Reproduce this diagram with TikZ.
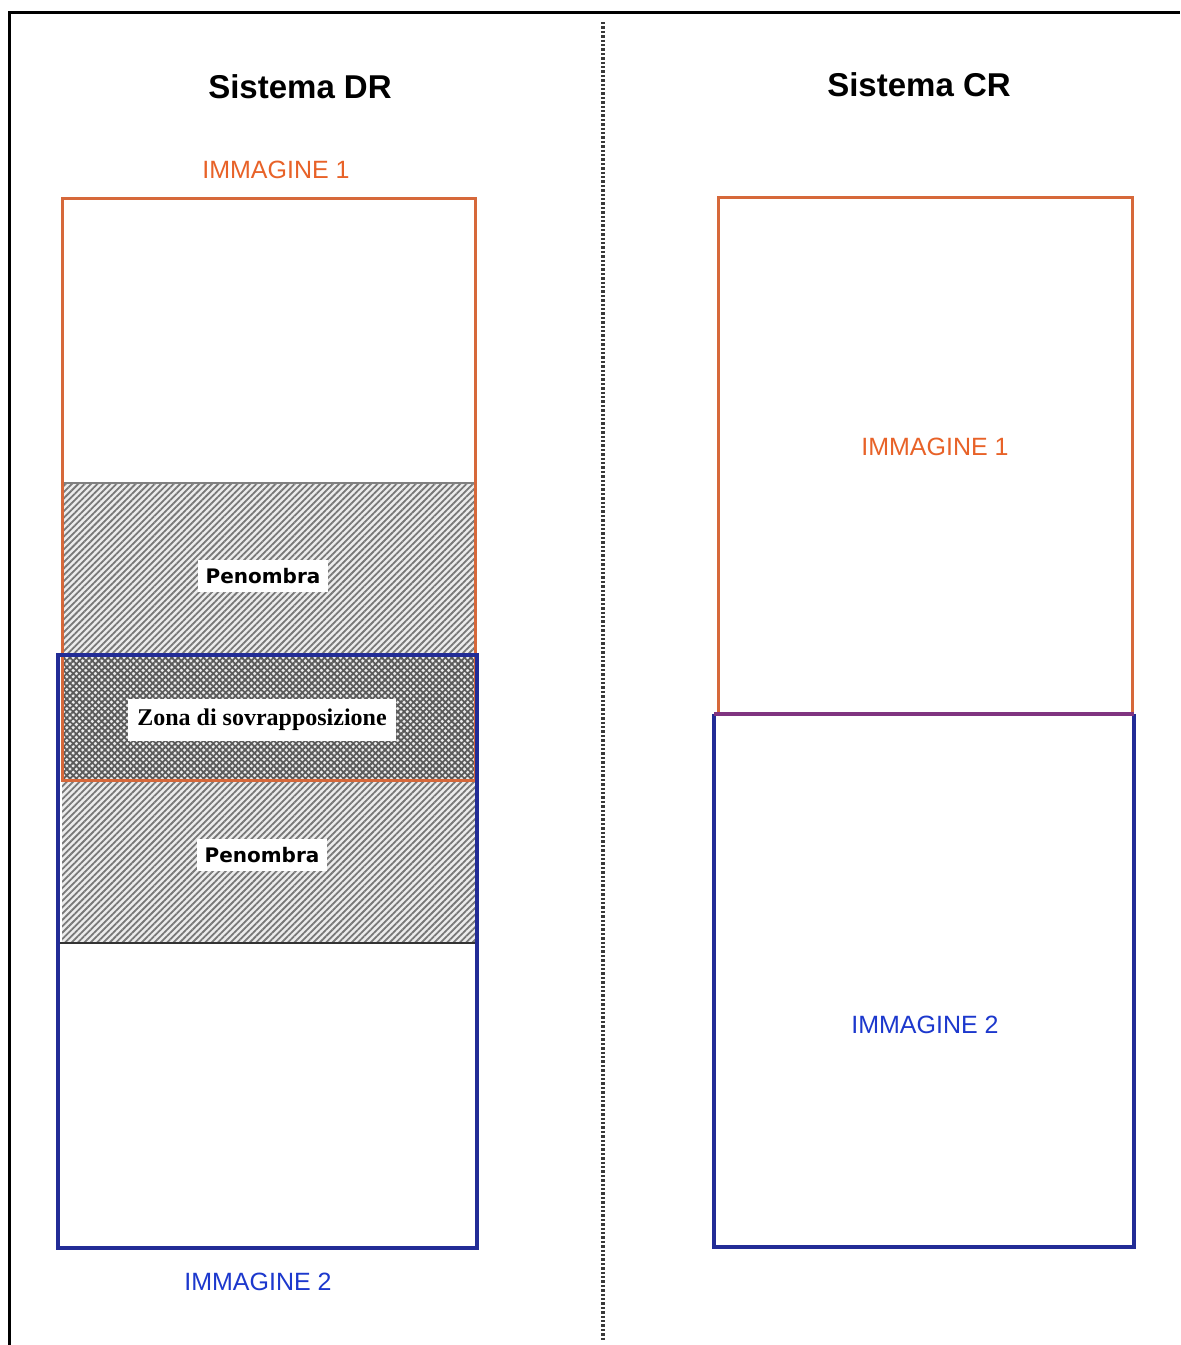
\documentclass[tikz,border=0pt]{standalone}
\usepackage{fontspec}
\setmainfont{Liberation Sans}
\newfontfamily\labelfont{DejaVu Sans}
\newfontfamily\zonefont{Liberation Serif}
\usetikzlibrary{patterns.meta}
\definecolor{imgorange}{RGB}{214,104,58}
\definecolor{txtorange}{RGB}{232,98,40}
\definecolor{imgblue}{RGB}{34,44,150}
\definecolor{txtblue}{RGB}{28,56,205}
\definecolor{joinpurple}{RGB}{128,52,128}
\definecolor{hatchbg}{RGB}{236,236,236}
\definecolor{hatchline}{RGB}{120,120,120}
\definecolor{crossline}{RGB}{90,90,90}
\tikzset{
  frameline/.style={line width=1.5pt,black},
  divider/.style={line width=1.6pt,gray!45!black,dash pattern=on 1.2pt off 1pt},
  img1/.style={draw=imgorange,line width=1.5pt},
  img2/.style={draw=imgblue,line width=2pt},
  title/.style={font=\bfseries\fontsize{16.5}{18}\selectfont,text=black},
  img1text/.style={font=\fontsize{12.5}{14}\selectfont,text=txtorange},
  img2text/.style={font=\fontsize{12.5}{14}\selectfont,text=txtblue},
  penlabel/.style={fill=white,inner xsep=4pt,inner ysep=4pt,font=\labelfont\bfseries\fontsize{10}{12}\selectfont},
  zonelabel/.style={fill=white,inner xsep=4.5pt,inner ysep=5pt,font=\zonefont\bfseries\fontsize{12}{14}\selectfont},
  halfshade/.style={fill=hatchbg,postaction={pattern={Lines[angle=45,distance=2.25pt,line width=0.9pt]},pattern color=hatchline}},
  fullshade/.style={fill=hatchbg,postaction={pattern={Lines[angle=45,distance=2.25pt,line width=0.9pt]},pattern color=crossline},
    postaction={pattern={Lines[angle=-45,distance=2.25pt,line width=0.9pt]},pattern color=crossline}},
}
\begin{document}
\begin{tikzpicture}[x=0.5pt,y=-0.5pt]
\useasboundingbox (0,0) rectangle (1180,1345);
\fill[white] (0,0) rectangle (1180,1345);

% outer frame (top and left edges) and the centre divider
\draw[frameline] (9,1345) -- (9,12) -- (1180,12);
\coordinate (divtop) at (603,22);
\coordinate (divbot) at (603,1342);
\draw[divider] (divtop) -- (divbot);

% ---------- Sistema DR ----------
\node[title] (titleDR) at (300,87) {Sistema DR};
\node[img1text] (dr1) at (276,170) {IMMAGINE 1};
\node[img2text] (dr2) at (258,1282) {IMMAGINE 2};

% shaded bands: penumbra, overlap, penumbra
\path[halfshade] (62,483) rectangle (475,655);
\path[fullshade] (62,655) rectangle (475,780);
\path[halfshade] (62,780) rectangle (475,943);
\draw[line width=1.2pt,gray] (62,483) -- (475,483);
\draw[line width=1.2pt,gray!40!black] (58,943) -- (477,943);

% image frames
\draw[img1] (62,198) rectangle (475,780);
\draw[img2] (58,655) rectangle (477,1248);

\node[penlabel] (pen1) at (263,576) {Penombra};
\node[zonelabel] (zona) at (262,720) {Zona di sovrapposizione};
\node[penlabel] (pen2) at (262,855) {Penombra};

% ---------- Sistema CR ----------
\node[title] (titleCR) at (919,85) {Sistema CR};
\draw[img1] (718,714) -- (718,197) -- (1132,197) -- (1132,714);
\draw[img2] (714,714) -- (714,1247) -- (1134,1247) -- (1134,714);
\draw[line width=2pt,joinpurple] (714,714) -- (1134,714);
\node[img1text] (cr1) at (935,447) {IMMAGINE 1};
\node[img2text] (cr2) at (925,1025) {IMMAGINE 2};
\end{tikzpicture}
\end{document}
